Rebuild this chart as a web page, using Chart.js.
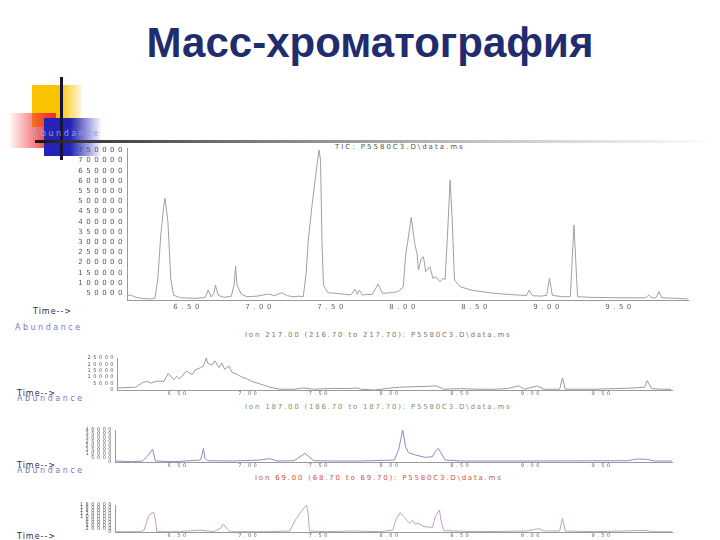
<!DOCTYPE html>
<html>
<head>
<meta charset="utf-8">
<script src="https://cdn.jsdelivr.net/npm/chart.js@4.4.0/dist/chart.umd.min.js"></script>
<style>
  body { margin: 0; width: 720px; height: 540px; background: #fff; position: relative; overflow: hidden; font-family: "Liberation Sans", Arial, sans-serif; }
  .abs { position: absolute; }
  canvas { position: absolute; }
  #title { left: 0; top: 19px; width: 740px; text-align: center; font-size: 42px; font-weight: bold; color: #1f2c6e; }
  .small { font-family: "DejaVu Sans", sans-serif; font-size: 7px; white-space: nowrap; }
  .abund { font-size: 8px; letter-spacing: 2.5px; color: #7a7ab8; }
  .time { font-size: 8px; letter-spacing: 1px; color: #2a2a50; }
</style>
</head>
<body>
<div id="title" class="abs">Масс-хроматография</div>

<!-- decoration -->
<div class="abs" style="left:32px;top:85px;width:50px;height:42px;background:linear-gradient(to right,#f9c300 0%,#f9c300 55%,rgba(249,195,0,0.1) 100%);"></div>
<div class="abs" style="left:10px;top:113px;width:46px;height:35px;background:linear-gradient(to right,rgba(255,90,90,0.05) 0%,#f03030 90%);"></div>
<div class="abs" style="left:44px;top:118px;width:58px;height:38px;background:linear-gradient(to right,#2323b8 0%,#2323b8 45%,rgba(35,35,184,0) 100%);"></div>
<div class="abs" style="left:60px;top:77px;width:3px;height:83px;background:#14143c;"></div>
<div class="abs" style="left:35px;top:140px;width:685px;height:3px;background:linear-gradient(to right,#111 0%,#333 5%,#777 30%,#bbb 60%,rgba(220,220,220,0) 100%);"></div>

<!-- labels -->
<div class="abs small abund" style="left:33px;top:129px;color:#9a9ad0;">Abundance</div>
<div class="abs small" style="left:335px;top:143px;letter-spacing:2px;color:#555;">TIC: P5580C3.D\data.ms</div>
<div class="abs small time" style="left:33px;top:307px;">Time--&gt;</div>
<div class="abs small abund" style="left:15px;top:323px;">Abundance</div>
<div class="abs small" style="left:245px;top:331px;letter-spacing:1.8px;color:#777;">Ion 217.00 (216.70 to 217.70): P5580C3.D\data.ms</div>
<div class="abs small time" style="left:17px;top:389px;">Time--&gt;</div>
<div class="abs small abund" style="left:17px;top:394px;">Abundance</div>
<div class="abs small" style="left:245px;top:403px;letter-spacing:1.8px;color:#8a8a70;">Ion 187.00 (186.70 to 187.70): P5580C3.D\data.ms</div>
<div class="abs small time" style="left:17px;top:461px;">Time--&gt;</div>
<div class="abs small abund" style="left:17px;top:466px;">Abundance</div>
<div class="abs small" style="left:255px;top:474px;letter-spacing:1.8px;color:#d05050;">Ion 69.00 (68.70 to 69.70): P5580C3.D\data.ms</div>
<div class="abs small time" style="left:17px;top:532px;">Time--&gt;</div>

<canvas id="tic" width="690" height="180" style="left:20px;top:140px;"></canvas>
<canvas id="ion217" width="670" height="50" style="left:20px;top:350px;"></canvas>
<canvas id="ion187" width="670" height="50" style="left:20px;top:422px;"></canvas>
<canvas id="ion69" width="670" height="43" style="left:20px;top:497px;"></canvas>

<script>
// tick labels
var timeTicks = [6.5, 7, 7.5, 8, 8.5, 9, 9.5];
var ticYTicks = [50000, 100000, 150000, 200000, 250000, 300000, 350000, 400000, 450000, 500000, 550000, 600000, 650000, 700000, 750000];
var ion217YTicks = [0, 5000, 10000, 15000, 20000, 25000];
var ion187YTicks = [0, 5000, 10000, 15000, 20000, 25000, 30000, 35000, 40000];
var ion69YTicks = [0, 20000, 40000, 60000, 80000, 100000, 120000, 140000, 160000, 180000];

// TIC
var ticTimes = [
  6.08, 6.10, 6.13, 6.18, 6.24, 6.27, 6.29, 6.31, 6.33, 6.34, 6.36, 6.38, 6.40, 6.45,
  6.55, 6.62, 6.64, 6.66, 6.68, 6.69, 6.71, 6.75, 6.80, 6.82, 6.83, 6.84, 6.87, 6.91, 6.98, 7.06, 7.10, 7.15, 7.19, 7.23, 7.27,
  7.30, 7.32, 7.335, 7.36, 7.385, 7.41, 7.42, 7.43, 7.44, 7.47,
  7.55, 7.63, 7.66, 7.675, 7.69, 7.71, 7.78, 7.82, 7.85, 7.90, 7.96,
  7.995, 8.01, 8.05, 8.075, 8.09, 8.10, 8.12, 8.135, 8.15, 8.18, 8.20, 8.22, 8.25, 8.27, 8.285,
  8.30, 8.32, 8.335, 8.35, 8.39, 8.47, 8.60, 8.71, 8.85, 8.87, 8.89, 8.95, 8.99, 9.01, 9.03, 9.10, 9.155, 9.18, 9.205, 9.30, 9.50, 9.68, 9.70, 9.72, 9.75, 9.77, 9.79, 9.90, 9.97
];
var ticValues = [
  38000, 42000, 32000, 25000, 22000, 26000, 120000, 330000, 470000, 516000, 400000, 120000, 40000, 28000,
  25000, 30000, 66000, 32000, 50000, 90000, 40000, 30000, 35000, 90000, 184000, 90000, 45000, 33000, 36000, 46500, 38000, 53000, 38000, 33000, 36000,
  33000, 148000, 311000, 474000, 621000, 752000, 703000, 311000, 90000, 53000,
  48000, 42000, 70000, 45000, 66000, 42000, 45000, 95000, 50000, 52000, 58000,
  82000, 229000, 422000, 290000, 246000, 164000, 221000, 229000, 156000, 180000, 123000, 131000, 107000, 123000, 118000,
  311000, 605000, 400000, 115000, 82000, 65000, 52000, 45000, 39000, 66000, 38000, 36000, 40000, 123000, 40000, 33000, 33000, 385000, 33000, 30000, 28000, 28000, 42000, 28000, 28000, 58000, 28000, 25000, 22000
];

// Ion 217
var ion217Times = [
  6.07, 6.20, 6.25, 6.28, 6.31, 6.35, 6.40, 6.43, 6.47, 6.49, 6.51, 6.56, 6.60, 6.62, 6.66, 6.68, 6.70, 6.71, 6.74, 6.76,
  6.79, 6.81, 6.83, 6.86, 6.88, 6.92, 6.95, 6.99, 7.02, 7.06, 7.10, 7.15, 7.22, 7.32, 7.39, 7.46, 7.60, 7.70, 7.77, 7.79,
  7.89, 7.98, 8.07, 8.22, 8.33, 8.38, 8.50, 8.62, 8.74, 8.83, 8.91, 8.95, 9.04, 9.09, 9.20, 9.22, 9.24, 9.45, 9.59, 9.73,
  9.80, 9.82, 9.85, 9.92, 9.99
];
var ion217Values = [
  1600, 2200, 5900, 6700, 5400, 7000, 6700, 12900, 8100, 10700, 8700, 14700, 12100, 15600, 17500, 18800, 25000, 21000, 19300, 22800,
  17500, 21000, 16100, 18800, 14000, 12100, 10200, 8600, 6700, 5400, 4000, 2200, 600, 600, 1600, 600, 1300, 1100, 1600, 600,
  0, 1300, 2200, 2700, 3200, 600, 1100, 600, 600, 1100, 3200, 600, 3200, 600, 600, 9400, 600, 600, 1100, 1600,
  2200, 7300, 1100, 600, 600
];

// Ion 187
var ion187Times = [
  6.05, 6.18, 6.25, 6.29, 6.32, 6.34, 6.47, 6.66, 6.68, 6.69, 6.71, 6.89, 7.08, 7.15, 7.20, 7.32, 7.37, 7.40, 7.42, 7.46,
  7.60, 7.79, 8.03, 8.06, 8.09, 8.11, 8.13, 8.18, 8.25, 8.30, 8.32, 8.34, 8.37, 8.39, 8.50, 8.97, 9.68, 9.75, 9.82, 9.87, 10.0
];
var ion187Values = [
  1250, 400, 1250, 8750, 15900, 1250, 400, 2500, 17100, 4600, 1600, 1250, 2500, 4200, 1250, 1600, 7500, 10800, 7500, 1600,
  1250, 1250, 2500, 15000, 40000, 19200, 11700, 8750, 5800, 6700, 12900, 17100, 8750, 2500, 1250, 1250, 1600, 3750, 3300, 1250, 1250
];

// Ion 69
var ion69Times = [
  6.05, 6.23, 6.26, 6.29, 6.31, 6.33, 6.34, 6.35, 6.51, 6.66, 6.75, 6.80, 6.82, 6.85, 6.87, 7.13, 7.29, 7.33, 7.37, 7.40,
  7.41, 7.42, 7.43, 7.55, 7.74, 7.93, 8.02, 8.04, 8.07, 8.10, 8.12, 8.14, 8.16, 8.18, 8.20, 8.24, 8.30, 8.32, 8.35, 8.36,
  8.38, 8.62, 8.97, 9.05, 9.09, 9.20, 9.22, 9.24, 9.45, 9.81, 9.85, 10.0
];
var ion69Values = [
  2000, 2000, 13000, 102000, 125000, 129000, 80000, 2000, 2000, 13000, 2000, 24000, 53000, 20000, 2000, 2000, 6700, 80000, 135000, 169000,
  180000, 127000, 6700, 2000, 6700, 2000, 13000, 80000, 129000, 102000, 76000, 58000, 76000, 51000, 58000, 36000, 31000, 102000, 147000, 80000,
  9000, 2000, 6700, 22000, 6700, 6700, 91000, 6700, 2000, 11000, 2000, 2000
];

// one chromatogram panel
function buildChart(id, times, values, yTicks, o) {
  var points = times.map(function (t, i) { return { x: t, y: values[i] }; });
  var font = { size: o.fontSize, family: 'DejaVu Sans' };
  return new Chart(document.getElementById(id).getContext('2d'), {
    type: 'line',
    data: {
      datasets: [{ data: points, borderColor: o.color, borderWidth: 1, pointRadius: 0, tension: 0, fill: false }]
    },
    options: {
      responsive: false,
      animation: false,
      layout: { padding: { top: o.padTop, right: o.padRight, left: 0, bottom: 0 } },
      plugins: { legend: { display: false }, tooltip: { enabled: false } },
      scales: {
        x: {
          type: 'linear', min: o.xMin, max: o.xMax,
          afterBuildTicks: function (s) { s.ticks = timeTicks.map(function (v) { return { value: v }; }); },
          afterFit: function (s) { s.height = o.xHeight; },
          grid: { display: false, drawTicks: false },
          border: { color: '#9a9a9a' },
          ticks: { autoSkip: false, maxRotation: 0, padding: o.xPad, color: '#666', font: font,
            callback: function (v) { return v.toFixed(2); } }
        },
        y: {
          min: o.yMin, max: o.yMax,
          afterBuildTicks: function (s) { s.ticks = yTicks.map(function (v) { return { value: v }; }); },
          afterFit: function (s) { s.width = o.yWidth; },
          grid: { display: false, drawTicks: false },
          border: { color: '#9a9a9a' },
          ticks: { autoSkip: false, padding: 1, color: '#555', font: font,
            callback: function (v) { return String(v); } }
        }
      }
    },
    // the scanned labels are stretched wide
    plugins: [{ id: 'wide', beforeDraw: function (c) { c.ctx.letterSpacing = o.spacing + 'px'; } }]
  });
}

buildChart('tic', ticTimes, ticValues, ticYTicks, {
  color: '#a0a0a0', fontSize: 7, spacing: 3.5, padTop: 8, padRight: 22, yWidth: 107, xHeight: 20, xPad: 3,
  xMin: 6.076, xMax: 9.972, yMin: 17000, yMax: 762000
});
buildChart('ion217', ion217Times, ion217Values, ion217YTicks, {
  color: '#9a9a9a', fontSize: 5, spacing: 2.5, padTop: 8, padRight: 18, yWidth: 97, xHeight: 10, xPad: 1,
  xMin: 6.068, xMax: 9.995, yMin: 0, yMax: 25000
});
buildChart('ion187', ion187Times, ion187Values, ion187YTicks, {
  color: '#8c8cc8', fontSize: 5, spacing: 2.5, padTop: 8, padRight: 18, yWidth: 95, xHeight: 10, xPad: 1,
  xMin: 6.054, xMax: 9.995, yMin: 0, yMax: 40000
});
buildChart('ion69', ion69Times, ion69Values, ion69YTicks, {
  color: '#c0a0c8', fontSize: 5, spacing: 2.5, padTop: 8, padRight: 18, yWidth: 95, xHeight: 8, xPad: 1,
  xMin: 6.054, xMax: 9.995, yMin: 0, yMax: 180000
});
</script>
</body>
</html>
